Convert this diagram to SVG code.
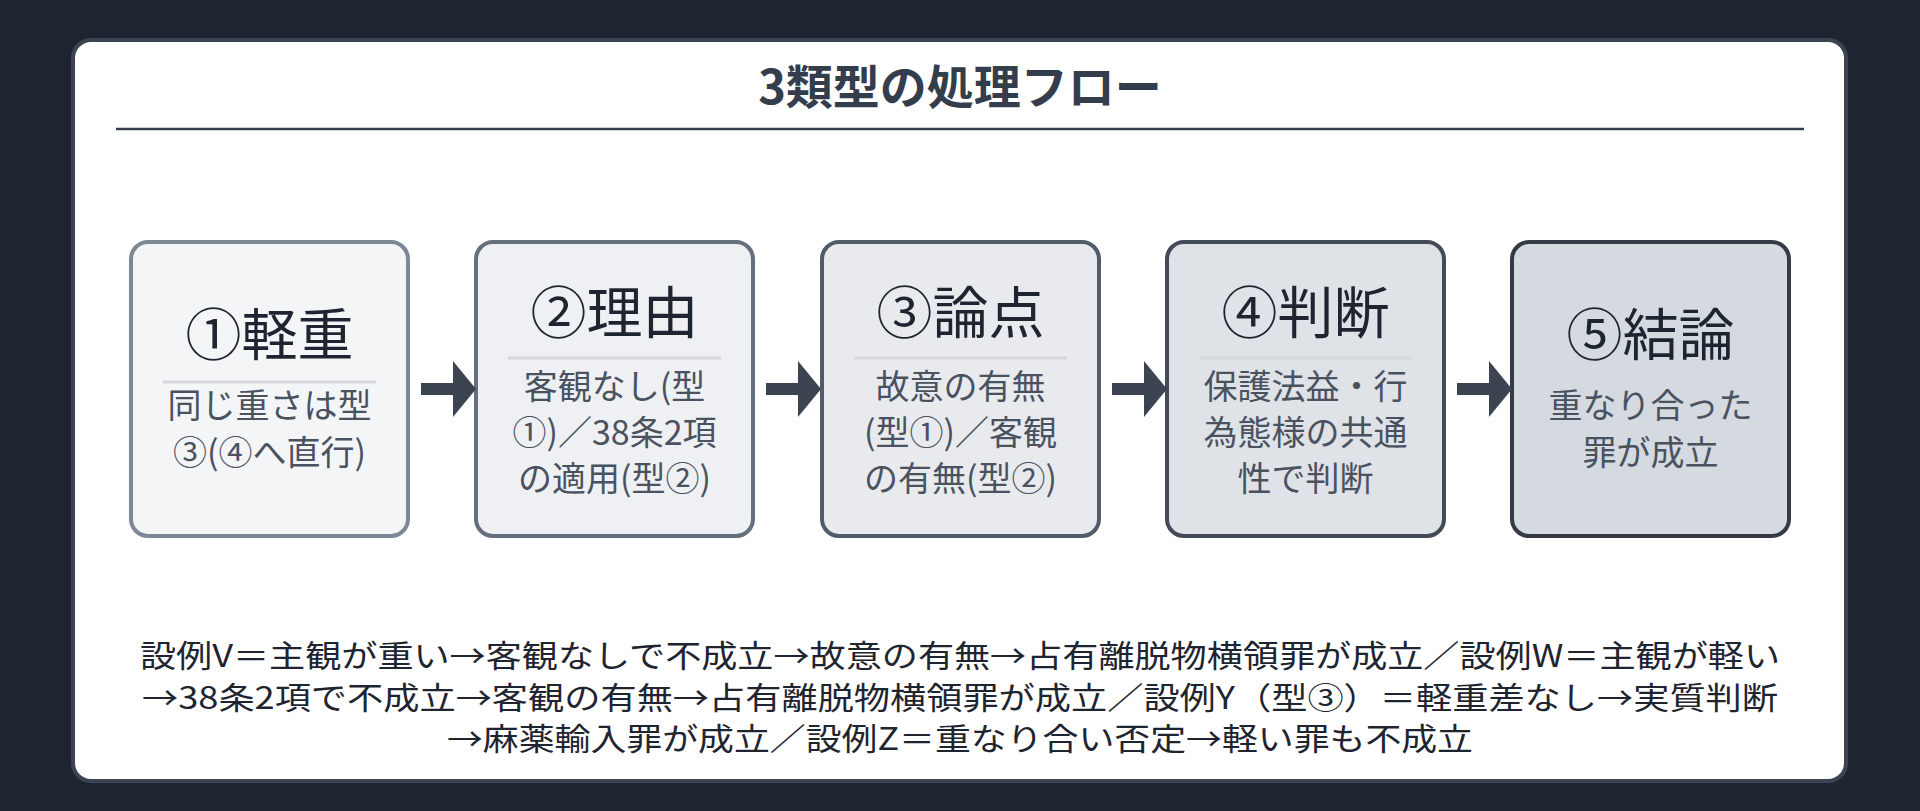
<svg xmlns="http://www.w3.org/2000/svg" width="1920" height="811" viewBox="0 0 1920 811">
<style>
text{font-family:"Noto Sans CJK JP","Noto Sans",sans-serif;text-anchor:middle}
.t{font-size:56px;fill:#1f2530}
.b{font-size:34px;fill:#4a5260}
.f{font-size:31px;fill:#1f2530}
.sep{stroke:#d5d8dd;stroke-width:3}
.box{stroke-width:4}
</style>
<rect width="1920" height="811" fill="#1e2430"/>
<rect x="73" y="40" width="1773" height="741" rx="18" fill="#ffffff" stroke="#3c4452" stroke-width="4"/>
<text x="960" y="104" style="font-size:47px;font-weight:bold;fill:#333d4b">3類型の処理フロー</text>
<line x1="116" y1="129" x2="1804" y2="129" stroke="#333d4b" stroke-width="2.5"/>
<g id="n1"><rect class="box" x="131" y="242" width="277" height="294" rx="17" fill="#f4f5f7" stroke="#7d8796"/>
<text class="t" x="269.5" y="355">①軽重</text><line class="sep" x1="163" y1="382" x2="376" y2="382"/>
<text class="b" x="269.5" y="418">同じ重さは型</text><text class="b" x="269.5" y="465">③(④へ直行)</text></g>
<g id="n2"><rect class="box" x="476" y="242" width="277" height="294" rx="17" fill="#eef0f3" stroke="#666f7d"/>
<text class="t" x="614.5" y="333">②理由</text><line class="sep" x1="508" y1="358" x2="721" y2="358"/>
<text class="b" x="614.5" y="399">客観なし(型</text><text class="b" x="614.5" y="445">①)／38条2項</text><text class="b" x="614.5" y="491">の適用(型②)</text></g>
<g id="n3"><rect class="box" x="822" y="242" width="277" height="294" rx="17" fill="#e8eaee" stroke="#525b69"/>
<text class="t" x="960.5" y="333">③論点</text><line class="sep" x1="854" y1="358" x2="1067" y2="358"/>
<text class="b" x="960.5" y="399">故意の有無</text><text class="b" x="960.5" y="445">(型①)／客観</text><text class="b" x="960.5" y="491">の有無(型②)</text></g>
<g id="n4"><rect class="box" x="1167" y="242" width="277" height="294" rx="17" fill="#dfe2e7" stroke="#434b58"/>
<text class="t" x="1305.5" y="333">④判断</text><line class="sep" x1="1199" y1="358" x2="1412" y2="358"/>
<text class="b" x="1305.5" y="399">保護法益・行</text><text class="b" x="1305.5" y="445">為態様の共通</text><text class="b" x="1305.5" y="491">性で判断</text></g>
<g id="n5"><rect class="box" x="1512" y="242" width="277" height="294" rx="17" fill="#d5d9e0" stroke="#343b47"/>
<text class="t" x="1650.5" y="355">⑤結論</text><line class="sep" x1="1544" y1="382" x2="1757" y2="382"/>
<text class="b" x="1650.5" y="418">重なり合った</text><text class="b" x="1650.5" y="465">罪が成立</text></g>
<g id="edges" fill="#3c4452">
<path d="M421 383h32v-22l23 28-23 28v-22h-32z"/>
<path d="M766 383h32v-22l23 28-23 28v-22h-32z"/>
<path d="M1112 383h32v-22l23 28-23 28v-22h-32z"/>
<path d="M1457 383h32v-22l23 28-23 28v-22h-32z"/>
</g>
<text class="f" x="960" y="667" textLength="1640" lengthAdjust="spacingAndGlyphs">設例V＝主観が重い→客観なしで不成立→故意の有無→占有離脱物横領罪が成立／設例W＝主観が軽い</text>
<text class="f" x="960" y="709" textLength="1636" lengthAdjust="spacingAndGlyphs">→38条2項で不成立→客観の有無→占有離脱物横領罪が成立／設例Y（型③）＝軽重差なし→実質判断</text>
<text class="f" x="960" y="750" textLength="1026" lengthAdjust="spacingAndGlyphs">→麻薬輸入罪が成立／設例Z＝重なり合い否定→軽い罪も不成立</text>
</svg>
